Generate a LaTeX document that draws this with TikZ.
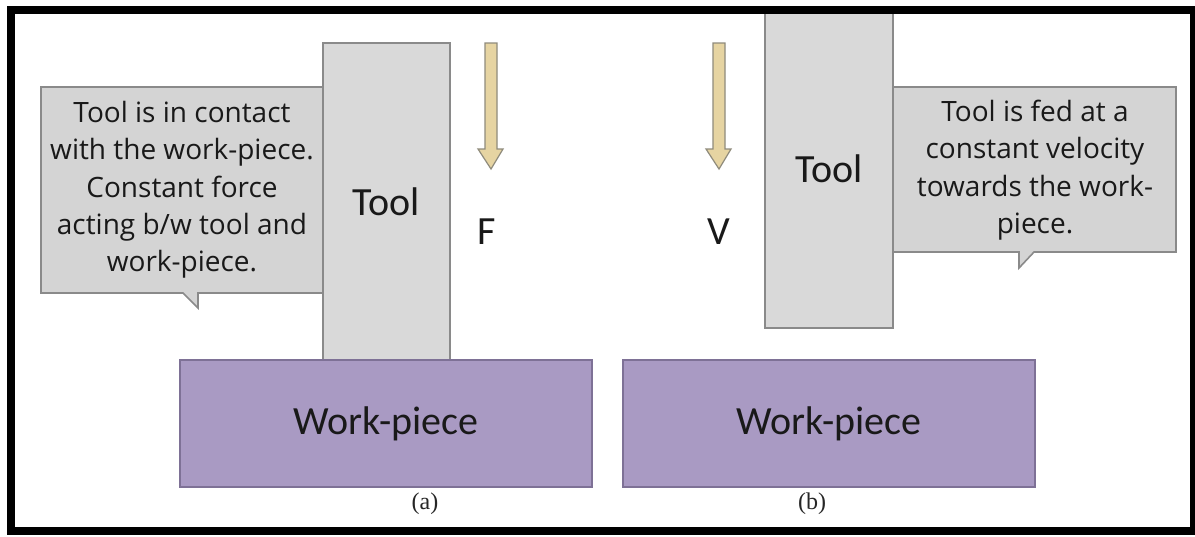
\documentclass[tikz,border=0pt]{standalone}
\usepackage{fontspec}
\setmainfont{Liberation Serif}
\newfontfamily\calib{Carlito}
\newfontfamily\callfont{Open Sans}
\definecolor{toolfill}{HTML}{D9D9D9}
\definecolor{toolline}{HTML}{8A8A8A}
\definecolor{callfill}{HTML}{D4D4D4}
\definecolor{wpfill}{HTML}{A99AC3}
\definecolor{wpline}{HTML}{7E7196}
\definecolor{arrfill}{HTML}{E6D4A2}
\definecolor{arrline}{HTML}{8F8B7C}
\begin{document}
\begin{tikzpicture}[x=0.75pt,y=-0.75pt,
  toolbox/.style={draw=toolline,fill=toolfill,line width=1.2pt},
  wpbox/.style={draw=wpline,fill=wpfill,line width=1.2pt},
  callbox/.style={draw=toolline,fill=callfill,line width=1.2pt,line join=miter},
  bigarrow/.style={draw=arrline,fill=arrfill,line width=0.9pt},
  bigtext/.style={font=\calib\fontsize{30}{36}\selectfont,text=black!90},
  calltext/.style={font=\callfont\fontsize{21}{28}\selectfont,align=center,text=black!90,inner sep=0pt},
  caption/.style={font=\fontsize{18}{20}\selectfont,text=black!85}]
\useasboundingbox (0,0) rectangle (1195,536);
\fill[white] (0,0) rectangle (1195,536);

% ---------- (a) ----------
\draw[toolbox] (323,43) rectangle (450,360);
\node[bigtext] (toolA) at (386,202) {Tool};

\draw[callbox] (41,87) -- (323,87) -- (323,293) -- (198,293) -- (198,308) -- (183,293) -- (41,293) -- cycle;
\node[calltext] (callA) at (182,190) {Tool is in contact\\with the work-piece.\\Constant force\\acting b/w tool and\\work-piece.};

\draw[wpbox] (180,360) rectangle (592,487);
\node[bigtext] (wpA) at (386,424) {Work-piece};

\draw[bigarrow] (485,43) -- (497,43) -- (497,149) -- (503,149) -- (491,169) -- (478,149) -- (485,149) -- cycle;
\node[bigtext] (F) at (487,232) {F};
\node[caption] (capA) at (425,504) {(a)};

% ---------- (b) ----------
\draw[toolbox] (765,8) rectangle (893,328);
\node[bigtext] (toolB) at (829,169) {Tool};

\draw[callbox] (893,87) -- (1176,87) -- (1176,252) -- (1034,252) -- (1019,268) -- (1019,252) -- (893,252) -- cycle;
\node[calltext] (callB) at (1035,170) {Tool is fed at a\\constant velocity\\towards the work-\\piece.};

\draw[wpbox] (623,360) rectangle (1035,487);
\node[bigtext] (wpB) at (829,424) {Work-piece};

\draw[bigarrow] (713,43) -- (725,43) -- (725,149) -- (731,149) -- (719,169) -- (706,149) -- (713,149) -- cycle;
\node[bigtext] (V) at (719,232) {V};
\node[caption] (capB) at (812,504) {(b)};

% ---------- frame ----------
\draw[line width=6pt,black] (11,10) rectangle (1194,531);
\end{tikzpicture}
\end{document}
